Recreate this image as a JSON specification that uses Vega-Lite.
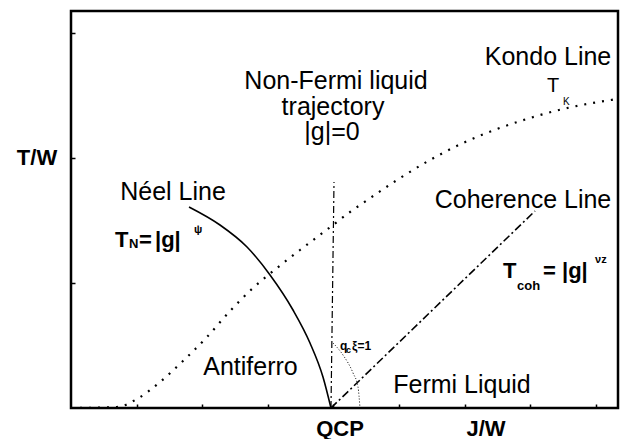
{
  "$schema": "https://vega.github.io/schema/vega-lite/v6.json",
  "width": 547,
  "height": 397,
  "autosize": {"type": "none"},
  "padding": {"left": 71, "top": 11, "right": 4, "bottom": 31},
  "background": "white",
  "config": {"view": {"stroke": "black", "strokeWidth": 2.5}},
  "datasets": {
    "neel": [
      {"x": 1.799, "y": 1.608}, {"x": 2.271, "y": 1.464}, {"x": 2.683, "y": 1.288},
      {"x": 3.034, "y": 1.064}, {"x": 3.384, "y": 0.784}, {"x": 3.643, "y": 0.52},
      {"x": 3.841, "y": 0.248}, {"x": 3.963, "y": 0}
    ],
    "kondo": [
      {"x": 0, "y": 0}, {"x": 0.701, "y": 0.008}, {"x": 1.006, "y": 0.072},
      {"x": 1.357, "y": 0.208}, {"x": 1.707, "y": 0.376}, {"x": 2.073, "y": 0.568},
      {"x": 2.424, "y": 0.776}, {"x": 2.774, "y": 0.96}, {"x": 3.14, "y": 1.12},
      {"x": 3.491, "y": 1.264}, {"x": 3.994, "y": 1.464}, {"x": 4.253, "y": 1.568},
      {"x": 4.451, "y": 1.64}, {"x": 4.97, "y": 1.824}, {"x": 5.473, "y": 1.984},
      {"x": 5.976, "y": 2.12}, {"x": 6.494, "y": 2.232}, {"x": 6.997, "y": 2.32},
      {"x": 7.5, "y": 2.392}, {"x": 8.323, "y": 2.472}
    ],
    "nfl": [{"x": 3.963, "y": 0}, {"x": 4.009, "y": 1.808}],
    "coh": [{"x": 3.963, "y": 0}, {"x": 7.073, "y": 1.576}],
    "arc": [
      {"x": 3.994, "y": 0.52}, {"x": 4.146, "y": 0.424}, {"x": 4.299, "y": 0.28},
      {"x": 4.375, "y": 0.168}, {"x": 4.405, "y": 0}
    ],
    "lab25c": [
      {"x": 4.04, "y": 2.552, "t": "Non-Fermi liquid"},
      {"x": 3.994, "y": 2.344, "t": "trajectory"},
      {"x": 3.979, "y": 2.144, "t": "|g|=0"},
      {"x": 7.271, "y": 2.744, "t": "Kondo Line"},
      {"x": 6.89, "y": 1.6, "t": "Coherence Line"},
      {"x": 1.555, "y": 1.664, "t": "Néel Line"},
      {"x": 2.736, "y": 0.264, "t": "Antiferro"},
      {"x": 5.96, "y": 0.12, "t": "Fermi Liquid"}
    ],
    "lab20l": [{"x": 7.256, "y": 2.528, "t": "T"}],
    "lab10l": [{"x": 7.5, "y": 2.424, "t": "K"}],
    "bold23c": [
      {"x": -0.518, "y": 1.944, "t": "T/W"},
      {"x": 4.101, "y": -0.224, "t": "QCP"},
      {"x": 6.326, "y": -0.224, "t": "J/W"}
    ],
    "bold22l": [
      {"x": 0.671, "y": 1.288, "t": "T"},
      {"x": 1.037, "y": 1.288, "t": "="},
      {"x": 1.28, "y": 1.288, "t": "|g|"},
      {"x": 6.585, "y": 1.04, "t": "T"},
      {"x": 7.195, "y": 1.04, "t": "= |g|"}
    ],
    "bold13l": [
      {"x": 0.884, "y": 1.28, "t": "N"},
      {"x": 6.799, "y": 0.944, "t": "coh"}
    ],
    "bold12l": [
      {"x": 4.101, "y": 0.464, "t": "q"},
      {"x": 4.284, "y": 0.464, "t": "ξ=1"}
    ],
    "bold11l": [
      {"x": 1.875, "y": 1.4, "t": "ψ"},
      {"x": 7.988, "y": 1.16, "t": "νz"}
    ],
    "bold9l": [
      {"x": 4.192, "y": 0.44, "t": "c"}
    ]
  },
  "encoding": {
    "x": {
      "field": "x", "type": "quantitative",
      "scale": {"domain": [0, 8.338], "nice": false, "zero": false},
      "axis": {"values": [1, 2, 3, 4, 5, 6, 7, 8], "labels": false, "domain": false, "grid": false, "title": null, "tickSize": -4, "tickWidth": 1.5, "tickColor": "black"}
    },
    "y": {
      "field": "y", "type": "quantitative",
      "scale": {"domain": [0, 3.176], "nice": false, "zero": false},
      "axis": {"values": [1, 2, 3], "labels": false, "domain": false, "grid": false, "title": null, "tickSize": -4, "tickWidth": 1.5, "tickColor": "black"}
    }
  },
  "layer": [
    {"data": {"name": "kondo"}, "mark": {"type": "line", "color": "black", "strokeWidth": 2.2, "strokeDash": [2, 7], "interpolate": "monotone"}},
    {"data": {"name": "neel"}, "mark": {"type": "line", "color": "black", "strokeWidth": 1.6, "interpolate": "monotone"}},
    {"data": {"name": "nfl"}, "mark": {"type": "line", "color": "black", "strokeWidth": 1.2, "strokeDash": [7, 3, 2, 3]}},
    {"data": {"name": "coh"}, "mark": {"type": "line", "color": "black", "strokeWidth": 1.6, "strokeDash": [8, 3, 2, 3]}},
    {"data": {"name": "arc"}, "mark": {"type": "line", "color": "black", "strokeWidth": 1, "strokeDash": [1, 2], "interpolate": "monotone"}},
    {"data": {"name": "lab25c"}, "mark": {"type": "text", "font": "Liberation Sans", "fontSize": 25, "align": "center", "baseline": "alphabetic", "color": "black"}, "encoding": {"text": {"field": "t"}}},
    {"data": {"name": "lab20l"}, "mark": {"type": "text", "font": "Liberation Sans", "fontSize": 20, "align": "left", "baseline": "alphabetic", "color": "black"}, "encoding": {"text": {"field": "t"}}},
    {"data": {"name": "lab10l"}, "mark": {"type": "text", "font": "Liberation Sans", "fontSize": 10, "align": "left", "baseline": "alphabetic", "color": "black"}, "encoding": {"text": {"field": "t"}}},
    {"data": {"name": "bold23c"}, "mark": {"type": "text", "font": "Liberation Sans", "fontWeight": "bold", "fontSize": 22, "align": "center", "baseline": "alphabetic", "color": "black"}, "encoding": {"text": {"field": "t"}}},
    {"data": {"name": "bold22l"}, "mark": {"type": "text", "font": "Liberation Sans", "fontWeight": "bold", "fontSize": 22, "align": "left", "baseline": "alphabetic", "color": "black"}, "encoding": {"text": {"field": "t"}}},
    {"data": {"name": "bold13l"}, "mark": {"type": "text", "font": "Liberation Sans", "fontWeight": "bold", "fontSize": 13, "align": "left", "baseline": "alphabetic", "color": "black"}, "encoding": {"text": {"field": "t"}}},
    {"data": {"name": "bold12l"}, "mark": {"type": "text", "font": "Liberation Sans", "fontWeight": "bold", "fontSize": 12, "align": "left", "baseline": "alphabetic", "color": "black"}, "encoding": {"text": {"field": "t"}}},
    {"data": {"name": "bold11l"}, "mark": {"type": "text", "font": "Liberation Sans", "fontWeight": "bold", "fontSize": 11, "align": "left", "baseline": "alphabetic", "color": "black"}, "encoding": {"text": {"field": "t"}}},
    {"data": {"name": "bold9l"}, "mark": {"type": "text", "font": "Liberation Sans", "fontWeight": "bold", "fontSize": 9, "align": "left", "baseline": "alphabetic", "color": "black"}, "encoding": {"text": {"field": "t"}}}
  ]
}
